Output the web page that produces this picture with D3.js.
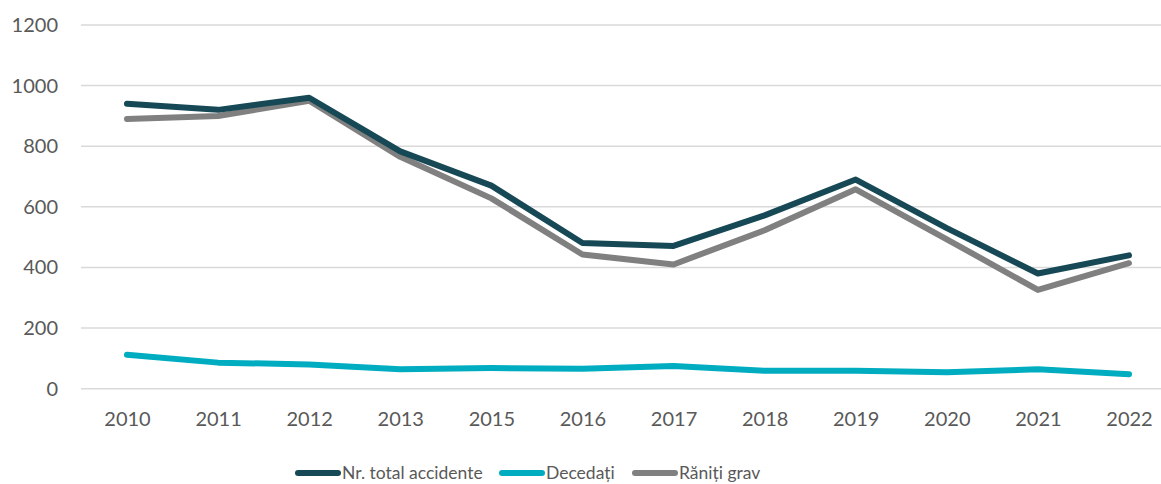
<!DOCTYPE html>
<html>
<head>
<meta charset="utf-8">
<script src="https://cdn.jsdelivr.net/npm/d3@7"></script>
<style>
  html, body { margin: 0; padding: 0; background: #fff; }
  svg { display: block; font-family: Lato, "Open Sans", sans-serif; }
</style>
</head>
<body>
<svg id="chart" width="1161" height="484"></svg>
<script>
// Road accidents by year
const years = ["2010", "2011", "2012", "2013", "2015", "2016", "2017", "2018", "2019", "2020", "2021", "2022"];
const totalAccidents = [940, 920, 960, 783, 670, 481, 471, 572, 690, 530, 380, 440];
const deaths = [112, 86, 80, 64, 68, 66, 75, 59, 59, 54, 64, 48];
const seriouslyInjured = [890, 900, 950, 765, 628, 443, 410, 523, 658, 493, 326, 414];
const yTicks = [0, 200, 400, 600, 800, 1000, 1200];

const seriesNames = ["Nr. total accidente", "Decedați", "Răniți grav"];
const seriesColors = ["#164955", "#00ADC0", "#808080"];
const seriesValues = [totalAccidents, deaths, seriouslyInjured];

const svg = d3.select("#chart");
const W = 1161;

const x = d3.scalePoint().domain(years).range([127, 1129]);
const y = d3.scaleLinear().domain([0, 1200]).range([388.7, 25]);

// horizontal gridlines
svg.append("g")
  .selectAll("line")
  .data(yTicks)
  .join("line")
  .attr("x1", 81).attr("x2", W)
  .attr("y1", d => y(d)).attr("y2", d => y(d))
  .attr("stroke", "#D9D9D9")
  .attr("stroke-width", 1.5);

// y axis labels
const yAxis = d3.axisLeft(y).tickValues(yTicks).tickFormat(d3.format("d")).tickSize(0).tickPadding(0);
svg.append("g")
  .attr("transform", "translate(58,0)")
  .call(yAxis)
  .call(g => g.select(".domain").remove())
  .call(g => g.selectAll("text")
    .attr("fill", "#595959")
    .style("font-size", "20px")
    .style("font-family", "Lato, 'Open Sans', sans-serif"));

// x axis labels
const xAxis = d3.axisBottom(x).tickSize(0).tickPadding(0);
svg.append("g")
  .attr("transform", "translate(0,412)")
  .call(xAxis)
  .call(g => g.select(".domain").remove())
  .call(g => g.selectAll("text")
    .attr("fill", "#595959")
    .style("font-size", "20px")
    .style("font-family", "Lato, 'Open Sans', sans-serif"));

// series lines (dark line drawn last so it sits on top)
const line = d3.line().x((d, i) => x(years[i])).y(d => y(d));
const drawOrder = [1, 2, 0];
svg.append("g")
  .selectAll("path")
  .data(drawOrder)
  .join("path")
  .attr("d", i => line(seriesValues[i]))
  .attr("fill", "none")
  .attr("stroke", i => seriesColors[i])
  .attr("stroke-width", 6)
  .attr("stroke-linecap", "round")
  .attr("stroke-linejoin", "round");

// legend
const legendX = [298, 502, 635];
const legendY = 473;
const lg = svg.append("g")
  .selectAll("g")
  .data(seriesNames)
  .join("g")
  .attr("transform", (d, i) => `translate(${legendX[i]},${legendY})`);
lg.append("line")
  .attr("x1", 0).attr("x2", 40)
  .attr("y1", 0).attr("y2", 0)
  .attr("stroke", (d, i) => seriesColors[i])
  .attr("stroke-width", 6)
  .attr("stroke-linecap", "round");
lg.append("text")
  .attr("x", 44)
  .attr("y", 0)
  .attr("dy", "0.35em")
  .attr("fill", "#595959")
  .style("font-size", "17.5px")
  .text(d => d);
</script>
</body>
</html>
